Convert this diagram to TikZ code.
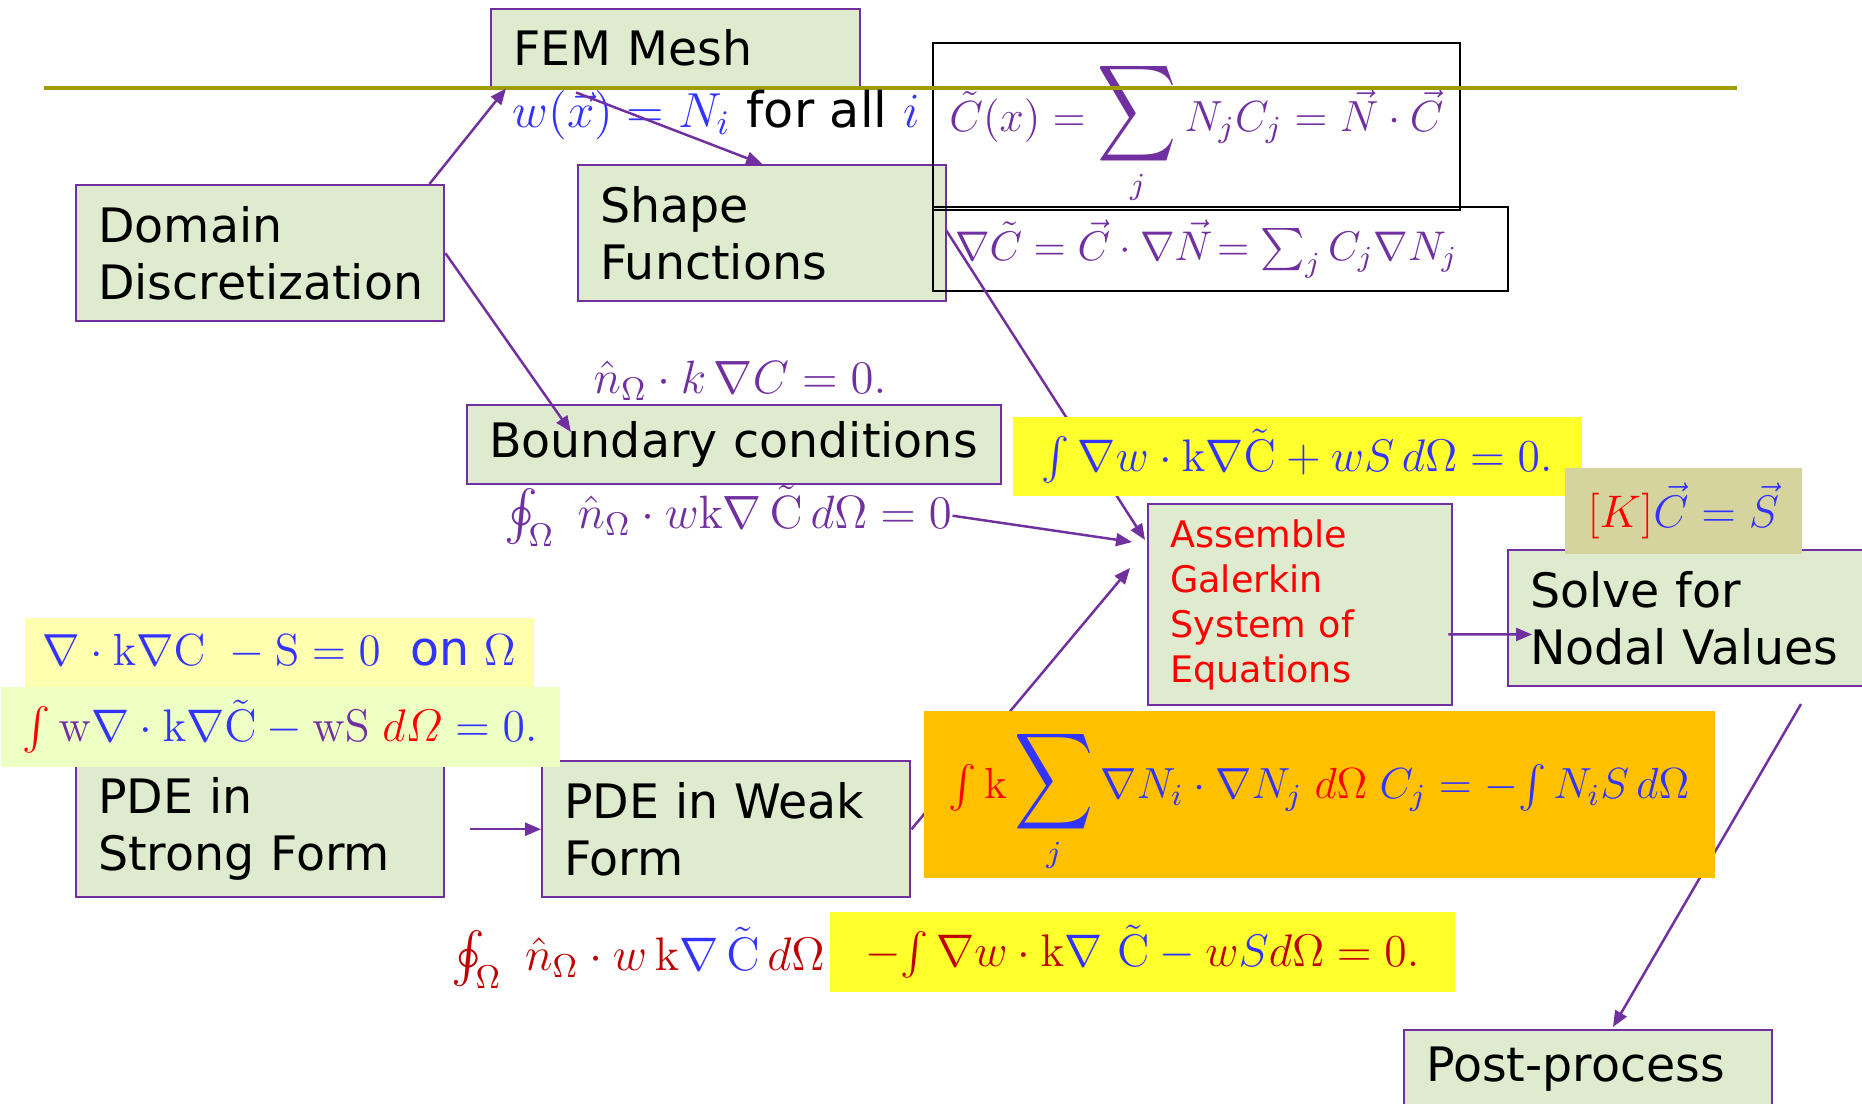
\RequirePackage{fix-cm}
\documentclass[tikz,border=0pt]{standalone}
\usepackage{amsmath}
\usepackage{graphicx}
\usepackage[no-math]{fontspec}
\newfontfamily\boxfont{DejaVu Sans}
\usetikzlibrary{arrows.meta,calc}
\definecolor{boxpurple}{RGB}{112,48,160}
\definecolor{boxgreen}{RGB}{223,235,206}
\definecolor{eqblue}{RGB}{51,51,255}
\definecolor{eqred}{RGB}{255,0,0}
\definecolor{eqdark}{RGB}{192,0,0}
\definecolor{hlyellow}{RGB}{255,255,43}
\definecolor{paleyellow}{RGB}{255,255,176}
\definecolor{palelime}{RGB}{238,255,196}
\definecolor{tanbox}{RGB}{214,212,158}
\definecolor{orangebox}{RGB}{255,192,0}
\definecolor{ruleolive}{RGB}{158,158,0}
\newcommand{\bigsum}{\mathop{\scalebox{1.3}[1.6]{$\displaystyle\sum$}}\limits}
\tikzset{
  flowbox/.style  = {draw=boxpurple,line width=0.7pt,fill=boxgreen,anchor=north west,
                     inner xsep=2.2mm,inner ysep=0pt,align=left,
                     font=\boxfont\fontsize{13.5}{16.2}\selectfont},
  bigbox/.style   = {flowbox,text width=32.4mm,minimum height=13.6mm},
  framebox/.style = {draw=black,line width=0.6pt,anchor=north west,inner sep=0pt,
                     text=boxpurple,font=\fontsize{12.4}{15}\selectfont},
  hlbox/.style    = {anchor=north west,inner sep=0pt,font=\fontsize{13}{16}\selectfont},
  eqn/.style      = {anchor=base west,inner sep=0pt,font=\fontsize{13.3}{16}\selectfont},
  flowarr/.style  = {-{Triangle[length=1.6mm,width=1.3mm]},boxpurple,line width=0.7pt}
}

\begin{document}
\begin{tikzpicture}[x=0.1mm,y=-0.1mm]
  \useasboundingbox (0,0) rectangle (1862,1104);
  \clip (0,0) rectangle (1862,1104);

  % flow boxes
  \node[bigbox] (domain) at (75,184) {Domain\\Discretization};
  \node[flowbox,text width=32.5mm,minimum height=7.8mm] (fem) at (490,8) {FEM Mesh};
  \node[bigbox] (shape) at (577,164) {Shape\\Functions};
  \node[flowbox,text width=49mm,minimum height=7.9mm] (bc) at (466,404) {Boundary conditions};
  \node[flowbox,text width=26mm,minimum height=20.1mm,text=eqred,
        font=\boxfont\fontsize{10.4}{12.8}\selectfont] (asm) at (1147,503)
        {Assemble\\Galerkin\\System of\\Equations};
  \node[bigbox] (solve)  at (1507,549) {Solve for\\Nodal Values};
  \node[bigbox] (strong) at (75,760)   {PDE in\\Strong Form};
  \node[bigbox] (weak)   at (541,760)  {PDE in Weak\\Form};
  \node[flowbox,text width=32.4mm,minimum height=7.8mm] (post) at (1403,1029) {Post-process};

  % framed expansions
  \node[framebox,minimum width=52.7mm,minimum height=16.7mm,text height=6mm,text depth=5.1mm] (interp) at (932,42)
        {$\tilde C(x)=\bigsum_j N_jC_j=\vec N\cdot\vec C$};
  \node[framebox,text width=53.1mm,inner xsep=2.2mm,minimum height=8.4mm,align=left,
        font=\fontsize{11.8}{14}\selectfont] (grad) at (932,206)
        {\mbox{$\nabla\tilde C=\vec C\cdot\nabla\vec N\!=\sum_j C_j\nabla N_j$}};

  \draw[ruleolive,line width=0.42mm] (44,88) -- (1737,88);

  % loose equations
  \node[eqn,text=eqblue,font=\fontsize{14}{17}\selectfont] (weight) at (512,127)
        {$w(\vec x)=N_i$ {\boxfont\color{black}for all} $i$};
  \node[eqn,text=boxpurple] (neumann) at (593,393) {$\hat n_\Omega\cdot k\,\nabla C=0.$};
  \node[eqn,text=boxpurple] (bdry) at (504,528)
        {$\oint_\Omega\ \hat n_\Omega\cdot w\mathrm{k}\nabla\,\tilde{\mathrm{C}}\,d\Omega=0$};
  \node[eqn,text=eqblue,font=\fontsize{13.4}{16}\selectfont] (bdryterm) at (451,970)
        {${\color{eqdark}\oint_\Omega\ \hat n_\Omega\cdot w\,\mathrm{k}}\nabla\,\tilde{\mathrm{C}}\,{\color{eqdark}d\Omega}$};

  % connectors
  \draw[flowarr] ($(domain.north east)+(-16,0)$) -- ($(fem.south west)+(16,0)$);
  \draw[flowarr] ($(fem.south west)+(86,4)$) -- (shape.north);
  \draw[flowarr] (domain.east) -- ($(bc.north west)+(105,28)$);
  \draw[flowarr] ($(grad.north west)+(14,24)$) -- ($(asm.north west)+(-2,37)$);
  \draw[flowarr] (bdry.east) -- ($(asm.north west)+(-15,39)$);
  \draw[flowarr] (weak.east) -- ($(asm.north west)+(-17,65)$);
  \draw[flowarr] ($(strong.east)+(25,0)$) -- (weak.west);
  \draw[flowarr] ($(asm.south east)+(-5,-72)$) -- ($(solve.south west)+(25,-53)$);
  \coordinate (solvefoot) at (1801,704);
  \draw[flowarr] (solvefoot) -- ($(post.north west)+(210,-2)$);

  % highlighted equations
  \node[hlbox,fill=hlyellow,minimum width=56.9mm,minimum height=7.9mm,text=eqblue] (weakform) at (1012,416)
        {$\int\nabla w\cdot\mathrm{k}\nabla\tilde{\mathrm{C}}+wS\,d\Omega=0.$};
  \node[hlbox,fill=tanbox,minimum width=23.7mm,minimum height=8.6mm,text=eqblue] (system) at (1564,467)
        {${\color{eqred}[K]}\vec C=\vec S$};
  \node[hlbox,fill=paleyellow,minimum width=50.9mm,minimum height=6.9mm,text=eqblue,
        font=\fontsize{12.8}{15}\selectfont] (strongeq) at (24,617)
        {$\nabla\cdot\mathrm{k}\nabla\mathrm{C}\ -\mathrm{S}=0$\ \ {\boxfont\fontsize{13.5}{16}\selectfont on} $\Omega$};
  \node[hlbox,fill=palelime,minimum width=55.9mm,minimum height=8mm,text=eqblue] (residual) at (0,686)
        {${\color{eqred}\int}\,{\color{boxpurple}\mathrm{w}}\nabla\cdot\mathrm{k}\nabla\tilde{\mathrm{C}}
          -{\color{boxpurple}\mathrm{wS}}\;{\color{eqred}d\varOmega}=0.$};
  \node[hlbox,fill=orangebox,minimum width=79.1mm,minimum height=16.7mm,text=eqblue,
        text height=6mm,text depth=5.1mm,font=\fontsize{12.4}{15}\selectfont] (galerkin) at (923,710)
        {${\color{eqred}\int\mathrm{k}}\bigsum_j\nabla N_i\cdot\nabla N_j\;{\color{eqred}d\Omega}\;C_j
          =-\!\int N_iS\,d\Omega$};
  \node[hlbox,fill=hlyellow,minimum width=62.5mm,minimum height=8mm,text=eqblue] (volterm) at (829,911)
        {${\color{eqdark}-\!\int\nabla w\cdot\mathrm{k}}\nabla\ \tilde{\mathrm{C}}-{\color{eqdark}w}S{\color{eqdark}d\Omega=0.}$};
\end{tikzpicture}
\end{document}
